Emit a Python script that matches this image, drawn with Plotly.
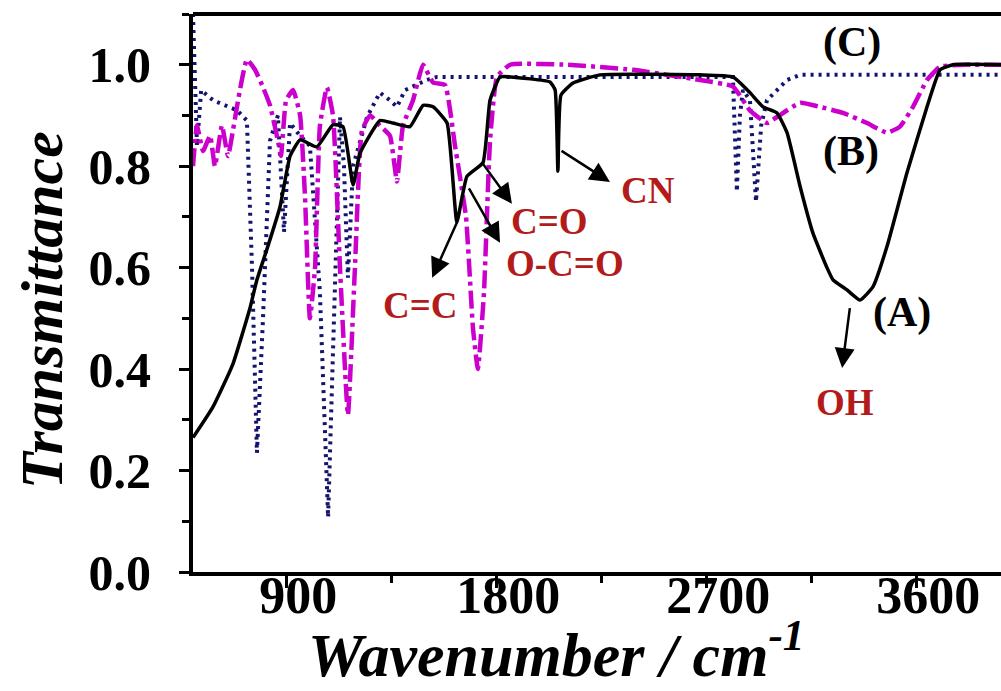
import plotly.graph_objects as go

# ---- data ----
wn_A = [500, 585, 671, 744, 774, 816, 873, 916, 959, 1031, 1100, 1143, 1186, 1216, 1301, 1357, 1430,
        1486, 1529, 1589, 1631, 1674, 1743, 1773, 1816, 1859, 2030, 2052, 2064, 2077, 2129, 2244,
        2673, 2814, 2887, 2943, 3003, 3046, 3102, 3157, 3217, 3243, 3303, 3359, 3414, 3474, 3560,
        3646, 3702, 3757, 3963]
T_A = [0.265, 0.325, 0.41, 0.52, 0.576, 0.635, 0.72, 0.82, 0.852, 0.838, 0.882, 0.878, 0.763, 0.826,
       0.89, 0.885, 0.878, 0.92, 0.917, 0.885, 0.69, 0.78, 0.807, 0.93, 0.976, 0.976, 0.966, 0.95,
       0.79, 0.94, 0.964, 0.98, 0.98, 0.976, 0.945, 0.917, 0.905, 0.866, 0.76, 0.668, 0.60, 0.576,
       0.556, 0.536, 0.562, 0.641, 0.787, 0.917, 0.99, 1.0, 1.0]

wn_B = [500, 517, 543, 573, 594, 624, 650, 671, 701, 731, 766, 796, 830, 864, 877, 899, 929, 959,
        980, 1001, 1023, 1044, 1074, 1100, 1130, 1164, 1194, 1224, 1259, 1301, 1344, 1374, 1400,
        1443, 1486, 1529, 1580, 1623, 1670, 1700, 1721, 1747, 1773, 1803, 1859, 2103, 2386, 2673,
        2814, 2887, 2960, 3003, 3102, 3187, 3286, 3389, 3474, 3530, 3586, 3646, 3702, 3817, 3963]
T_B = [0.80, 0.88, 0.83, 0.86, 0.80, 0.88, 0.82, 0.87, 0.95, 1.01, 0.99, 0.96, 0.92, 0.85, 0.82,
       0.93, 0.95, 0.90, 0.74, 0.50, 0.60, 0.88, 0.955, 0.90, 0.60, 0.31, 0.60, 0.87, 0.90, 0.88,
       0.86, 0.77, 0.88, 0.93, 1.0, 0.965, 0.96, 0.84, 0.70, 0.48, 0.40, 0.55, 0.85, 0.976, 1.0,
       1.0, 0.99, 0.97, 0.957, 0.91, 0.885, 0.897, 0.925, 0.917, 0.905, 0.885, 0.866, 0.878,
       0.917, 0.97, 0.996, 1.0, 1.0]

wn_C = [500, 509, 517, 535, 586, 689, 731, 753, 774, 800, 830, 864, 890, 916, 959, 1001, 1044,
        1079, 1104, 1130, 1147, 1164, 1186, 1246, 1301, 1344, 1374, 1409, 1503, 1546, 2814, 2831,
        2844, 2857, 2887, 2913, 2935, 2960, 3003, 3046, 3102, 3963]
T_C = [1.10, 0.93, 0.84, 0.95, 0.93, 0.91, 0.89, 0.60, 0.235, 0.50, 0.85, 0.90, 0.67, 0.885, 0.86,
       0.84, 0.55, 0.108, 0.50, 0.897, 0.80, 0.58, 0.80, 0.897, 0.945, 0.93, 0.917, 0.95, 0.97,
       0.976, 0.976, 0.75, 0.90, 0.95, 0.93, 0.73, 0.88, 0.93, 0.95, 0.97, 0.98, 0.98]

x_ticks = [900, 1800, 2700, 3600]
y_ticks = [0.0, 0.2, 0.4, 0.6, 0.8, 1.0]

# curve labels: (text, x, y)
curve_labels = [("(A)", 3539, 0.511), ("(B)", 3320, 0.828), ("(C)", 3324, 1.043)]
# group labels: (text, x, y)
group_labels = [("CN", 2450, 0.753), ("C=O", 2030, 0.690), ("O-C=O", 2094, 0.609),
                ("C=C", 1473, 0.525), ("OH", 3294, 0.335)]
# arrows: (tail_x, tail_y, tip_x, tip_y)
arrows = [(1636, 0.694, 1525, 0.580), (1739, 0.807, 1867, 0.726), (1679, 0.759, 1816, 0.649),
          (2073, 0.832, 2287, 0.769), (3316, 0.523, 3282, 0.402)]

SERIF = "Liberation Serif"
RED = "#B31B1B"

fig = go.Figure()
fig.add_trace(go.Scatter(x=wn_C, y=T_C, mode="lines", name="C",
                         line=dict(color="#14146E", width=4, dash="3px,5px")))
fig.add_trace(go.Scatter(x=wn_B, y=T_B, mode="lines", name="B",
                         line=dict(color="#CC00CC", width=4.5, dash="18px,5px,4px,5px",
                                   shape="spline", smoothing=0.4)))
fig.add_trace(go.Scatter(x=wn_A, y=T_A, mode="lines", name="A",
                         line=dict(color="black", width=3.5, shape="spline", smoothing=0.4)))

ann = []
for t, x, y in curve_labels:
    ann.append(dict(x=x, y=y, xref="x", yref="y", text=t, showarrow=False,
                    font=dict(family=SERIF, size=42, color="black", weight="bold")))
for t, x, y in group_labels:
    ann.append(dict(x=x, y=y, xref="x", yref="y", text=t, showarrow=False,
                    font=dict(family=SERIF, size=37, color=RED, weight="bold")))
for tx, ty, hx, hy in arrows:
    ann.append(dict(x=hx, y=hy, ax=tx, ay=ty, xref="x", yref="y", axref="x", ayref="y",
                    text="", showarrow=True, arrowhead=2, arrowsize=1.6, arrowwidth=2.5,
                    arrowcolor="black"))
ann.append(dict(x=(42 - 193) / 808, y=(572 - 310) / 558, xref="paper", yref="paper",
                text="Transmittance", textangle=-90, showarrow=False,
                xanchor="center", yanchor="middle",
                font=dict(family=SERIF, size=60, color="black", weight="bold", style="italic")))
ann.append(dict(x=(556 - 193) / 808, y=(572 - 650) / 558, xref="paper", yref="paper",
                text="Wavenumber / cm<sup>-1</sup>", showarrow=False,
                xanchor="center", yanchor="middle",
                font=dict(family=SERIF, size=62, color="black", weight="bold", style="italic")))

fig.update_layout(
    width=1001, height=691,
    margin=dict(l=193, r=0, t=14, b=119),
    paper_bgcolor="white", plot_bgcolor="white",
    showlegend=False,
    annotations=ann,
    shapes=[dict(type="line", xref="paper", yref="paper", x0=0, x1=1, y0=1, y1=1,
                 line=dict(color="black", width=4))],
)
fig.update_xaxes(range=[500, 3963], tickvals=x_ticks, showgrid=False, zeroline=False,
                 showline=True, linecolor="black", linewidth=4,
                 ticks="outside", ticklen=12, tickwidth=3, tickcolor="black",
                 minor=dict(dtick=450, tick0=450, ticks="outside", ticklen=7, tickwidth=3,
                            tickcolor="black", showgrid=False),
                 ticklabelstandoff=-37, ticklabelshift=12,
                 tickfont=dict(family=SERIF, size=52, color="black", weight="bold"))
fig.update_yaxes(range=[0, 1.1], tickvals=y_ticks, tickformat=".1f", showgrid=False,
                 zeroline=False, showline=True, linecolor="black", linewidth=4,
                 ticks="outside", ticklen=10, tickwidth=3, tickcolor="black",
                 minor=dict(dtick=0.1, tick0=0, ticks="outside", ticklen=7, tickwidth=3,
                            tickcolor="black", showgrid=False),
                 ticklabelstandoff=18,
                 tickfont=dict(family=SERIF, size=50, color="black", weight="bold"))

fig.write_html("out.html")
